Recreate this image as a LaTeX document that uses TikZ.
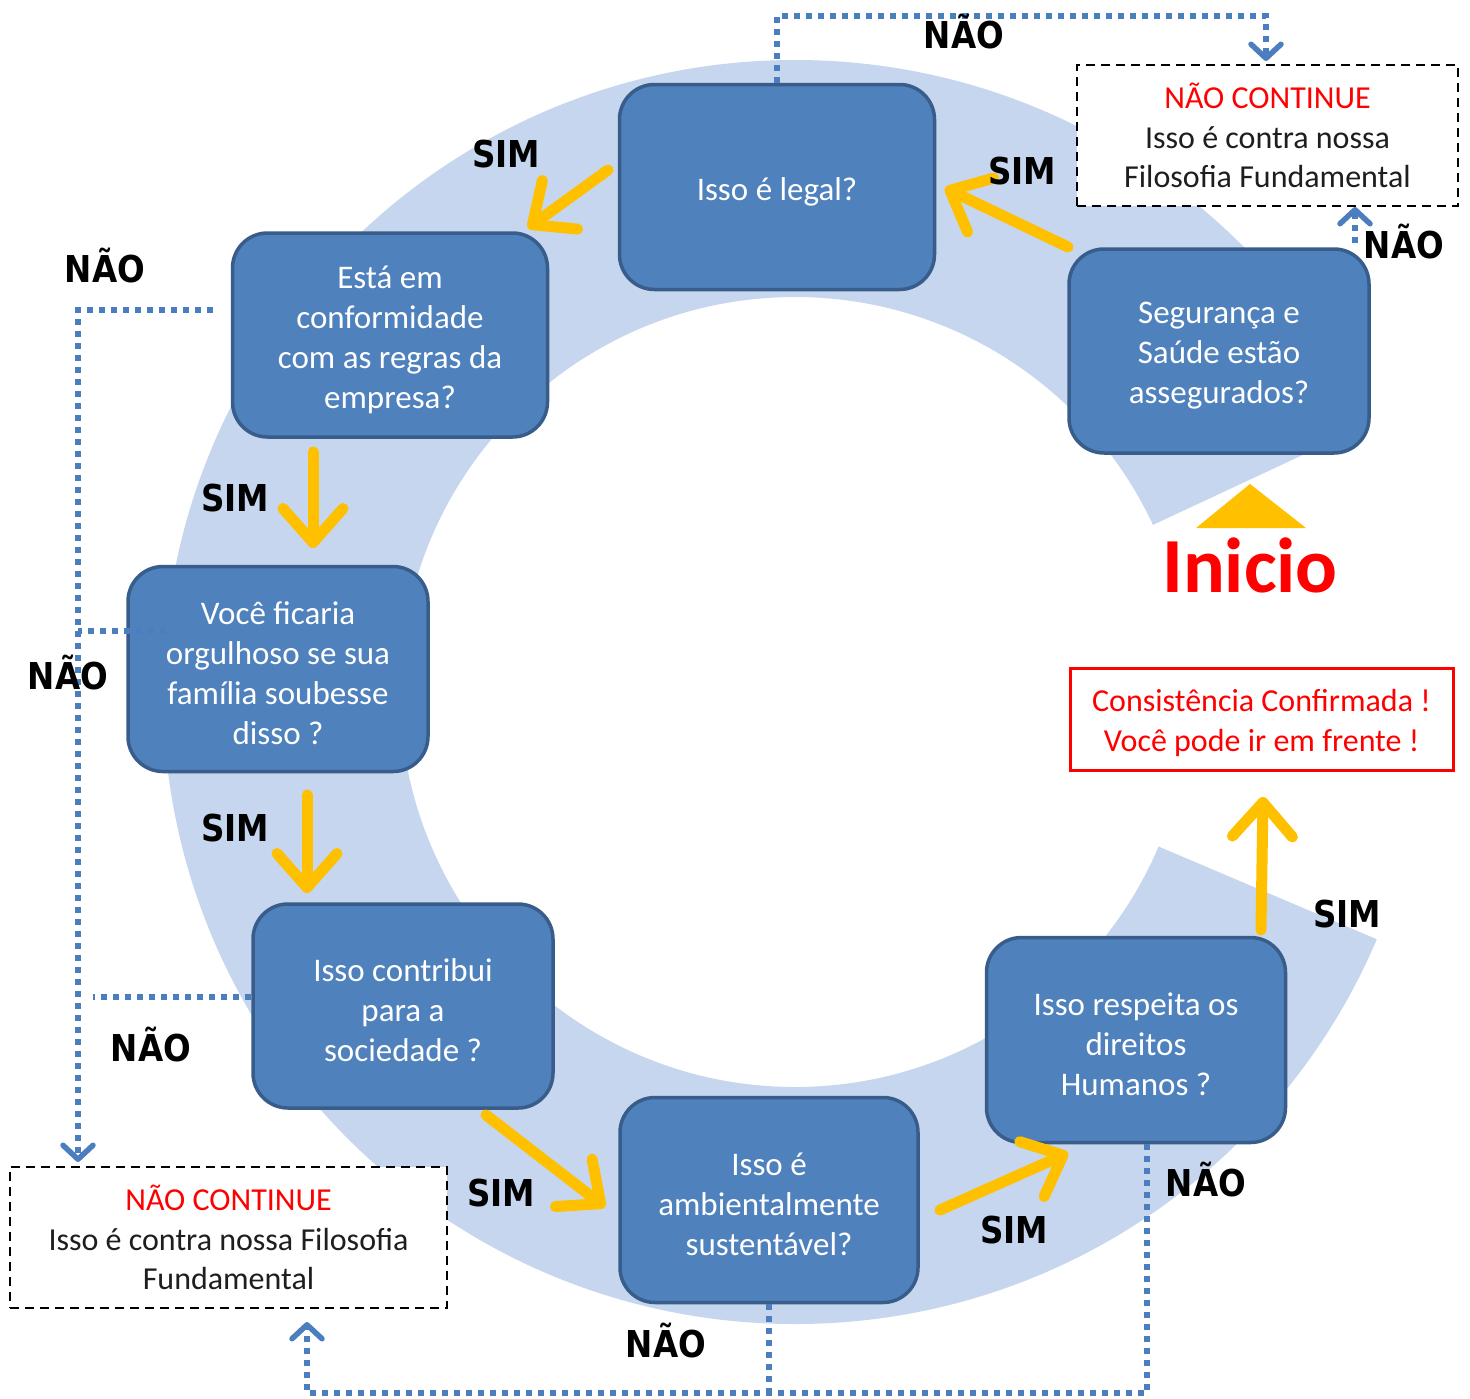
\documentclass[tikz,border=0pt]{standalone}
\usepackage{fontspec}
\setmainfont{Carlito}
\newfontfamily\lblfont[FakeStretch=0.88]{DejaVu Sans}
\usetikzlibrary{arrows.meta}
\definecolor{ringblue}{RGB}{198,214,238}
\definecolor{boxfill}{RGB}{79,129,189}
\definecolor{boxedge}{RGB}{56,93,138}
\definecolor{ayellow}{RGB}{255,192,0}
\definecolor{dotblue}{RGB}{74,126,190}
\definecolor{txtred}{RGB}{255,0,0}
\definecolor{txtdark}{RGB}{30,30,30}
\begin{document}
\begin{tikzpicture}[x=1pt,y=-1pt,
  qbox/.style={draw=boxedge, line width=3.5pt, fill=boxfill, rounded corners=35pt, inner sep=0pt},
  qtxt/.style={text=white, align=center, font=\fontsize{33}{40}\selectfont, inner sep=0pt, yshift=-4.5pt},
  yarrow/.style={draw=ayellow, line width=11pt, line cap=round,
    -{Straight Barb[round, length=34pt, width=60pt, line width=11pt]}},
  dotline/.style={draw=dotblue, line width=6pt, dash pattern=on 6pt off 6pt},
  dotarrow/.style={dotline, -{Straight Barb[round, length=14pt, width=30pt, line width=5.5pt]}},
  lbl/.style={font=\lblfont\bfseries\fontsize{37}{44}\selectfont, anchor=base, inner sep=0pt},
  dashbox/.style={draw=black, line width=2pt, dash pattern=on 9pt off 6pt, fill=white,
    align=center, text=txtdark, font=\fontsize{32}{39.5}\selectfont, inner sep=0pt},
  redbox/.style={draw=txtred, line width=3pt, fill=white, inner sep=0pt},
  redtxt/.style={text=txtred, align=center, font=\fontsize{32}{40}\selectfont, inner sep=0pt, yshift=-4pt}]
\useasboundingbox (0,0) rectangle (1470,1398);
\fill[white] (0,0) rectangle (1470,1398);

% ring
\begin{scope}
\clip (795,692) -- (1701,269) -- (1701,-400) -- (-300,-400) -- (-300,1800) -- (1715,1800) -- (1715,1083) -- cycle;
\fill[ringblue, even odd rule] (795,692) circle[radius=632pt] (795,692) circle[radius=395pt];
\end{scope}

% start marker
\fill[ayellow] (1250,484) -- (1306,528) -- (1196,528) -- cycle;
\node[anchor=base, text=txtred, font=\bfseries\fontsize{78}{90}\selectfont, inner sep=0pt] (inicio) at (1250,592) {Inicio};

% question boxes
\node[qbox, minimum width=315pt, minimum height=205pt, label={[qtxt]center:{Isso é legal?}}] (legal) at (777,187) {};
\node[qbox, minimum width=315pt, minimum height=204pt, label={[qtxt]center:{Está em\\conformidade\\com as regras da\\empresa?}}] (conf) at (390,335) {};
\node[qbox, minimum width=300pt, minimum height=205pt, label={[qtxt]center:{Você ficaria\\orgulhoso se sua\\família soubesse\\disso ?}}] (voce) at (278,669) {};
\node[qbox, minimum width=300pt, minimum height=204pt, label={[qtxt]center:{Isso contribui\\para a\\sociedade ?}}] (contrib) at (403,1006) {};
\node[qbox, minimum width=298pt, minimum height=205pt, label={[qtxt]center:{Isso é\\ambientalmente\\sustentável?}}] (amb) at (769,1200) {};
\node[qbox, minimum width=299pt, minimum height=205pt, label={[qtxt]center:{Isso respeita os\\direitos\\Humanos ?}}] (resp) at (1136,1040) {};
\node[qbox, minimum width=300pt, minimum height=204pt, label={[qtxt]center:{Segurança e\\Saúde estão\\assegurados?}}] (seg) at (1219,351) {};

% outcome boxes
\node[dashbox, minimum width=381pt, minimum height=141pt] (stopTR) at (1267.5,135.5)
  {{\color{txtred}NÃO CONTINUE}\\Isso é contra nossa\\Filosofia Fundamental};
\node[dashbox, minimum width=437pt, minimum height=141pt] (stopBL) at (228.5,1237.5)
  {{\color{txtred}NÃO CONTINUE}\\Isso é contra nossa Filosofia\\Fundamental};
\node[redbox, minimum width=383pt, minimum height=102pt,
  label={[redtxt]center:{Consistência Confirmada !\\Você pode ir em frente !}}] (ok) at (1261.5,719) {};

% yellow SIM arrows
\coordinate (a1s) at (1068,247); \coordinate (a1e) at (945,188);
\coordinate (a2s) at (608,170);  \coordinate (a2e) at (528,228);
\coordinate (a3s) at (313,452);  \coordinate (a3e) at (313,548);
\coordinate (a4s) at (307,795);  \coordinate (a4e) at (307,893);
\coordinate (a5s) at (486,1115); \coordinate (a5e) at (605,1207);
\coordinate (a6s) at (940,1210); \coordinate (a6e) at (1068,1153);
\coordinate (a7s) at (1261,930); \coordinate (a7e) at (1263,797);
\draw[yarrow] (a1s) -- (a1e);
\draw[yarrow] (a2s) -- (a2e);
\draw[yarrow] (a3s) -- (a3e);
\draw[yarrow] (a4s) -- (a4e);
\draw[yarrow] (a5s) -- (a5e);
\draw[yarrow] (a6s) -- (a6e);
\draw[yarrow] (a7s) -- (a7e);

% dotted NAO connectors
\draw[dotarrow] (legal.north) -- (777,16) -| ([xshift=-1.5pt,yshift=3pt]stopTR.north);
\coordinate (segn) at (1355,243);
\draw[dotarrow] (segn) -- (segn |- stopTR.south);
\draw[dotarrow] ([xshift=-18pt,yshift=25pt]conf.west) -| ([xshift=-150.5pt,yshift=4pt]stopBL.north);
\draw[dotline] ([xshift=40pt,yshift=38pt]voce.west) -- (78,631);
\draw[dotline] ([yshift=9pt]contrib.west) -- (93,997);
\draw[dotline] (amb.south) -- (769,1393);
\draw[dotarrow] ([xshift=11pt]resp.south) |- (307,1393) -- ([xshift=78.5pt,yshift=-13pt]stopBL.south);

% labels
\node[lbl] (l1) at (964,48) {NÃO};
\node[lbl] (l2) at (1022,184) {SIM};
\node[lbl] (l3) at (506,167) {SIM};
\node[lbl] (l4) at (105,282) {NÃO};
\node[lbl] (l5) at (235,511) {SIM};
\node[lbl] (l6) at (68,689) {NÃO};
\node[lbl] (l7) at (235,841) {SIM};
\node[lbl] (l8) at (151,1061) {NÃO};
\node[lbl] (l9) at (501,1206) {SIM};
\node[lbl] (l10) at (666,1357) {NÃO};
\node[lbl] (l11) at (1014,1243) {SIM};
\node[lbl] (l12) at (1206,1196) {NÃO};
\node[lbl] (l13) at (1347,927) {SIM};
\node[lbl] (l14) at (1404,258) {NÃO};
\end{tikzpicture}
\end{document}
